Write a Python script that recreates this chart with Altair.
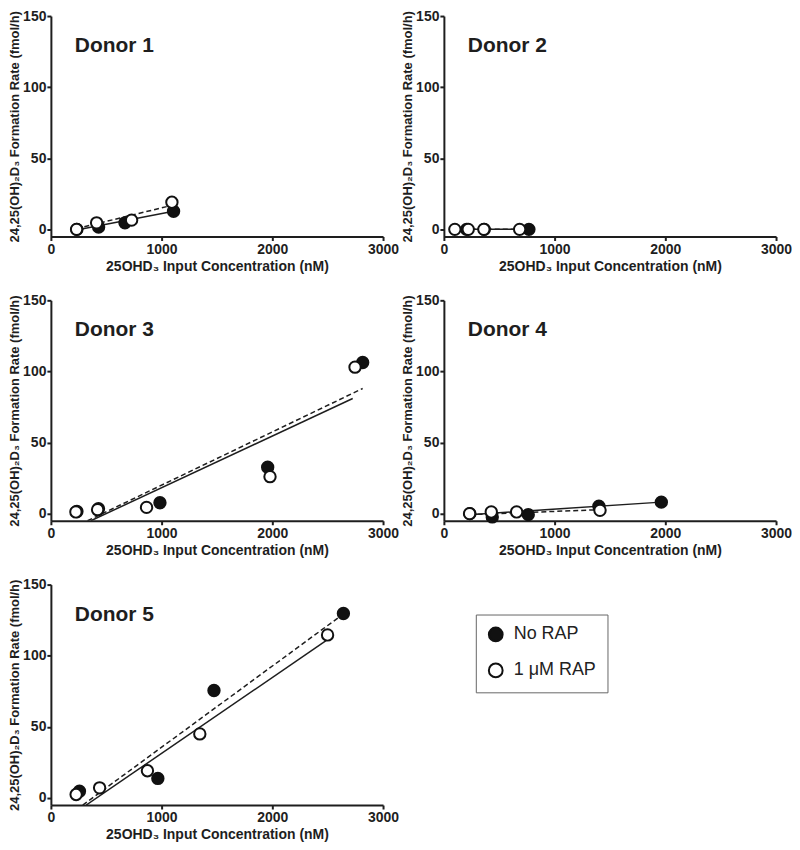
import altair as alt
import pandas as pd

# ---------------- data ----------------
DONORS = ["Donor 1", "Donor 2", "Donor 3", "Donor 4", "Donor 5"]
GROUPS = ["No RAP", "1 \u03bcM RAP"]

# No RAP (filled circles)
NORAP_X = {
    "Donor 1": [235, 431, 669, 1108],
    "Donor 2": [205, 365, 768],
    "Donor 3": [235, 430, 985, 1958, 2816],
    "Donor 4": [235, 437, 762, 1400, 1964],
    "Donor 5": [258, 966, 1473, 2642],
}
NORAP_Y = {
    "Donor 1": [0, 1.6, 4.6, 12.7],
    "Donor 2": [0, 0, 0],
    "Donor 3": [1.5, 3.5, 7.7, 32.6, 106.3],
    "Donor 4": [0, -2.3, -0.7, 5.3, 8.1],
    "Donor 5": [4.7, 13.7, 75.5, 129.7],
}
# 1 uM RAP (open circles)
RAP_X = {
    "Donor 1": [232, 413, 729, 1093],
    "Donor 2": [99, 220, 361, 684],
    "Donor 3": [226, 422, 864, 1979, 2747],
    "Donor 4": [232, 428, 657, 1410],
    "Donor 5": [228, 440, 872, 1345, 2499],
}
RAP_Y = {
    "Donor 1": [0, 4.6, 6.5, 19.1],
    "Donor 2": [0, 0, 0, 0],
    "Donor 3": [1.2, 2.8, 4.4, 26, 103],
    "Donor 4": [0, 1.2, 1.2, 2.3],
    "Donor 5": [2.4, 7.1, 19.1, 45, 114.6],
}
# fitted lines (end points)
SOLID_X = {
    "Donor 1": [232, 1108], "Donor 2": [99, 768], "Donor 3": [361, 2726],
    "Donor 4": [232, 1964], "Donor 5": [319, 2505],
}
SOLID_Y = {
    "Donor 1": [-0.5, 12.7], "Donor 2": [0, 0], "Donor 3": [-5, 81],
    "Donor 4": [-0.7, 8.1], "Donor 5": [-5, 111.6],
}
DASH_X = {
    "Donor 1": [232, 1093], "Donor 2": [99, 684], "Donor 3": [331, 2816],
    "Donor 4": [232, 1410], "Donor 5": [288, 2627],
}
DASH_Y = {
    "Donor 1": [0.5, 16.9], "Donor 2": [0, 0], "Donor 3": [-5, 88],
    "Donor 4": [-0.7, 2.8], "Donor 5": [-5, 128.5],
}

X_TICKS = [0, 1000, 2000, 3000]
Y_TICKS = [0, 50, 100, 150]
X_TITLE = "25OHD\u2083 Input Concentration (nM)"
Y_TITLE = "24,25(OH)\u2082D\u2083 Formation Rate (fmol/h)"

FONT = "Liberation Sans"
INK = "#1e1e1e"
W, H = 333, 221


def panel(donor, legend=False):
    pts = pd.DataFrame(
        [{"x": x, "y": y, "group": GROUPS[0], "o": 0} for x, y in zip(NORAP_X[donor], NORAP_Y[donor])]
        + [{"x": x, "y": y, "group": GROUPS[1], "o": 1} for x, y in zip(RAP_X[donor], RAP_Y[donor])]
    )
    solid = pd.DataFrame({"x": SOLID_X[donor], "y": SOLID_Y[donor]})
    dash = pd.DataFrame({"x": DASH_X[donor], "y": DASH_Y[donor]})

    xs = alt.Scale(domain=[0, 3000], nice=False)
    ys = alt.Scale(domain=[-5, 150], nice=False)
    xax = alt.Axis(values=X_TICKS, title=X_TITLE, format="d", labelFlush=False)
    yax = alt.Axis(values=Y_TICKS, title=Y_TITLE, format="d", labelFlush=False)

    l_solid = alt.Chart(solid).mark_line(color=INK, strokeWidth=1.5, clip=True).encode(
        x=alt.X("x:Q", scale=xs, axis=xax), y=alt.Y("y:Q", scale=ys, axis=yax)
    )
    l_dash = alt.Chart(dash).mark_line(color=INK, strokeWidth=1.5, strokeDash=[5, 3], clip=True).encode(
        x="x:Q", y="y:Q"
    )
    if legend:
        leg = alt.Legend(
            title=None, orient="none", legendX=426, legendY=30,
            strokeColor="#666", fillColor="white", padding=11,
            symbolType="circle", symbolSize=190, symbolStrokeColor="#111",
            symbolStrokeWidth=2, labelFont=FONT, labelFontSize=18,
            labelColor="#222", rowPadding=14, labelOffset=9, symbolOpacity=1,
        )
        fill_enc = alt.Fill(
            "group:N",
            scale=alt.Scale(domain=GROUPS, range=["#111111", "#ffffff"]),
            legend=leg,
        )
    else:
        fill_enc = alt.Fill(
            "group:N",
            scale=alt.Scale(domain=GROUPS, range=["#111111", "#ffffff"]),
            legend=None,
        )
    p = alt.Chart(pts).mark_circle(size=130, stroke="#111", strokeWidth=2, opacity=1).encode(
        x="x:Q", y="y:Q", fill=fill_enc, order=alt.Order("o:Q")
    )
    lab = alt.Chart(pd.DataFrame({"t": [donor]})).mark_text(
        align="left", baseline="middle", font=FONT, fontSize=21, fontWeight="bold", color=INK
    ).encode(text="t:N", x=alt.value(24), y=alt.value(30))
    return alt.layer(l_solid, l_dash, p, lab).properties(width=W, height=H)


row1 = alt.hconcat(panel("Donor 1"), panel("Donor 2"), spacing=2).resolve_scale(fill="independent")
row2 = alt.hconcat(panel("Donor 3"), panel("Donor 4"), spacing=2).resolve_scale(fill="independent")
row3 = panel("Donor 5", legend=True)

chart = alt.vconcat(row1, row2, row3, spacing=20).resolve_scale(
    fill="independent"
).resolve_legend(fill="independent").properties(
    padding={"left": 0, "top": 0, "right": 0, "bottom": 0}
).configure_view(stroke=None).configure_axis(
    grid=False, domainColor=INK, domainWidth=2, tickColor=INK, tickWidth=2,
    tickSize=4, labelFont=FONT, labelFontSize=14, labelFontWeight="bold",
    labelColor=INK, labelPadding=2, titleFont=FONT, titleFontSize=14,
    titleFontWeight="bold", titleColor=INK, titlePadding=3,
).configure_axisY(titlePadding=1, labelPadding=1, titleFontSize=13)

chart.save("out.html", embed_options={"renderer": "svg", "actions": False})
